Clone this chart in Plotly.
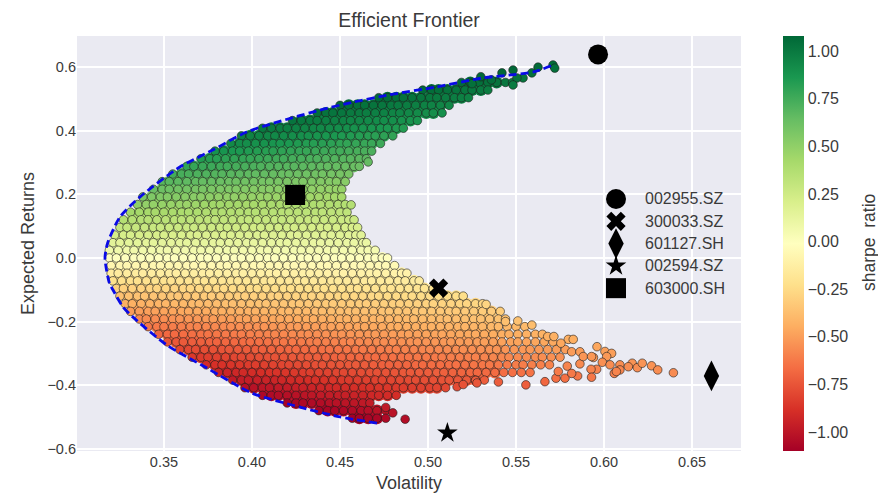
import plotly.graph_objects as go

# Portfolio cloud: one expected-return level per row,
# with the volatilities seen along it (in thousandths).
row_returns = [0.552, 0.528, 0.504, 0.480, 0.456, 0.432, 0.408, 0.384, 0.360, 0.336, 0.312, 0.288, 0.264, 0.240,
               0.216, 0.192, 0.168, 0.144, 0.120, 0.096, 0.072, 0.048, 0.024, 0.000, -0.024, -0.048, -0.072, -0.096,
               -0.120, -0.144, -0.168, -0.192, -0.216, -0.240, -0.264, -0.288, -0.312, -0.336, -0.360, -0.384,
               -0.408, -0.432, -0.456, -0.480, -0.504]
row_vols_milli = [
    [519,524,529,534,539,544,548],
    [497,502,506,511,516,521,525,530,534],
    [472,477,482,486,491,496,501,505,510,515,519,523],
    [450,455,460,464,469,474,479,483,488,493,498,502,507,512],
    [437,442,446,451,456,461,465,470,475,480,484,489,494,499,503,508],
    [423,428,433,437,442,447,452,456,461,466,471,475,480,485,490,494],
    [406,411,416,420,425,430,435,439,444,449,454,458,463,468,473,477,482,486],
    [394,399,404,409,413,418,423,428,432,437,442,447,451,456,461,466,470,475,480],
    [388,393,397,402,407,412,416,421,426,431,435,440,445,450,454,459,464,468,473],
    [379,384,389,393,398,403,408,412,417,422,427,431,436,441,446,450,455,460,464,468],
    [371,376,380,385,390,395,399,404,409,414,418,423,428,433,437,442,447,452,456,461,465],
    [363,367,372,377,382,386,391,396,401,405,410,415,420,424,429,434,439,443,448,453,458,461],
    [355,360,364,369,374,379,383,388,393,398,402,407,412,417,421,426,431,436,440,445,450,455],
    [349,353,358,363,368,372,377,382,387,391,396,401,406,410,415,420,425,429,434,439,444,448,453],
    [344,349,353,358,363,368,372,377,382,387,391,396,401,406,410,415,420,425,429,434,439,444,448,451],
    [338,343,348,352,357,362,367,371,376,381,386,390,395,400,405,409,414,419,424,428,433,438,443,447,451],
    [335,340,344,349,354,359,363,368,373,378,382,387,392,397,401,406,411,416,420,425,430,435,439,444,449,453],
    [331,336,341,345,350,355,360,364,369,374,379,383,388,393,398,402,407,412,417,421,426,431,436,440,445,450,454],
    [327,332,337,341,346,351,356,360,365,370,375,379,384,389,394,398,403,408,413,417,422,427,432,436,441,446,451,455,458],
    [325,329,334,339,344,348,353,358,363,367,372,377,382,386,391,396,401,405,410,415,420,424,429,434,439,443,448,453,457,460],
    [322,327,331,336,341,346,350,355,360,365,369,374,379,384,388,393,398,403,407,412,417,422,426,431,436,441,445,450,455,459,462],
    [321,325,330,335,340,344,349,354,359,363,368,373,378,382,387,392,397,401,406,411,416,420,425,430,435,439,444,449,454,458,463,465],
    [319,324,329,333,338,343,348,352,357,362,367,371,376,381,386,390,395,400,405,409,414,419,424,428,433,438,443,447,452,457,462,466,470],
    [319,323,328,333,337,342,347,352,356,361,366,371,375,380,385,390,394,399,404,409,413,418,423,428,432,437,442,447,451,456,461,466,470,474,477],
    [320,325,329,334,339,344,348,353,358,363,367,372,377,382,386,391,396,401,405,410,415,420,424,429,434,439,443,448,453,458,462,467,472,476,481],
    [320,324,329,334,338,343,348,353,357,362,367,372,376,381,386,391,395,400,405,410,414,419,424,429,433,438,443,448,452,457,462,467,471,476,481,485,488],
    [321,326,331,335,340,345,350,354,359,364,369,373,378,383,388,392,397,402,407,411,416,421,426,430,435,440,445,449,454,459,464,468,473,478,483,487,492,495],
    [323,327,332,337,342,346,351,356,361,365,370,375,380,384,389,394,399,403,408,413,418,422,427,432,437,441,446,451,456,460,465,470,475,479,484,489,494,498,503],
    [325,330,335,339,344,349,354,358,363,368,373,377,382,387,392,396,401,406,411,415,420,425,430,434,439,444,449,453,458,463,468,472,477,482,487,491,496,501,506,511,516,520],
    [328,332,337,342,347,351,356,361,366,370,375,380,385,389,394,399,404,408,413,418,423,427,432,437,442,446,451,456,461,465,470,475,480,484,489,494,499,503,508,513,518,522,527,531],
    [331,336,341,345,350,355,360,364,369,374,379,383,388,393,398,402,407,412,417,421,426,431,436,440,445,450,455,459,464,469,474,478,483,488,493,497,502,507,512,516,521,526,531,536,541],
    [336,340,345,350,355,359,364,369,374,378,383,388,393,397,402,407,412,416,421,426,431,435,440,445,450,454,459,464,469,473,478,483,488,492,497,502,507,511,516,521,526,530,535,540,544],
    [341,346,350,355,360,365,369,374,379,384,388,393,398,403,407,412,417,422,426,431,436,441,445,450,455,460,464,469,474,479,483,488,493,498,502,507,512,517,521,526,531,536,540,545,550,555],
    [347,352,356,361,366,371,375,380,385,390,394,399,404,409,413,418,423,428,432,437,442,447,451,456,461,466,470,475,480,485,489,494,499,504,508,513,518,523,527,532,537,542,546,551,556,561,565],
    [352,357,361,366,371,376,380,385,390,395,399,404,409,414,418,423,428,433,437,442,447,452,456,461,466,471,475,480,485,490,494,499,504,509,513,518,523,528,532,537,542,547,551,556,561,566,571],
    [359,364,368,373,378,383,387,392,397,402,406,411,416,421,425,430,435,440,444,449,454,459,463,468,473,478,482,487,492,497,501,506,511,516,520,525,530,535,539,544,549,554,558,563,568,573,578],
    [366,371,375,380,385,390,394,399,404,409,413,418,423,428,432,437,442,447,451,456,461,466,470,475,480,485,489,494,499,504,508,513,518,523,527,532,537,542,546,551,556,561,565,570,575],
    [374,379,383,388,393,398,402,407,412,417,421,426,431,436,440,445,450,455,459,464,469,474,478,483,488,493,497,502,507,512,516,521,526,531,535,540,545,550,554,559,564,569],
    [381,386,391,395,400,405,410,414,419,424,429,433,438,443,448,452,457,462,467,471,476,481,486,490,495,500,505,509,514,519,524,528,533,538,543,548,553,558],
    [389,394,398,403,408,413,417,422,427,432,436,441,446,451,455,460,465,470,474,479,484,489,493,498,503,508,512,517,522,527,532],
    [396,401,406,410,415,420,425,429,434,439,444,448,453,458,463,467,472,477,482,486,491,496,501,505,510],
    [406,411,415,420,425,430,434,439,444,449,453,458,463,468,472,477,482],
    [420,425,429,434,439,444,448,453,458,463,467],
    [438,443,447,452,457,462,466,471,476],
    [457,461,466,471,476],
]

# Stray portfolios outside the packed body (volatility, expected return)
loose_vols = [0.5710, 0.5720, 0.5625, 0.5590, 0.5540, 0.5505, 0.5483, 0.5483, 0.5420, 0.5360, 0.5300, 0.5250,
              0.4660, 0.4563, 0.4760, 0.4870, 0.4800,
              0.5330, 0.5440, 0.5510, 0.5590, 0.5680, 0.5715, 0.5797, 0.5825, 0.5755, 0.5960, 0.6005, 0.6043,
              0.6015, 0.5940, 0.5990, 0.6034, 0.6090, 0.6160, 0.6138, 0.6189, 0.6217, 0.6270, 0.6305, 0.6394,
              0.6090, 0.6058, 0.6070, 0.5958, 0.5926, 0.5929, 0.5850, 0.5778, 0.5727, 0.5664, 0.5556, 0.5863,
              0.5791, 0.5740, 0.5816, 0.5816, 0.5863, 0.5882, 0.5929, 0.5270, 0.5165, 0.5278, 0.5200, 0.5400]
loose_returns = [0.607, 0.597, 0.600, 0.582, 0.566, 0.566, 0.591, 0.544, 0.582, 0.560, 0.570, 0.548,
                 0.302, 0.167, -0.470, -0.507, -0.487,
                 -0.146, -0.200, -0.198, -0.211, -0.247, -0.247, -0.256, -0.256, -0.268, -0.279, -0.294, -0.300,
                 -0.310, -0.313, -0.328, -0.336, -0.336, -0.331, -0.342, -0.345, -0.331, -0.339, -0.352, -0.361,
                 -0.352, -0.363, -0.357, -0.350, -0.350, -0.375, -0.371, -0.378, -0.378, -0.389, -0.399, -0.333,
                 -0.340, -0.357, -0.363, -0.295, -0.295, -0.310, -0.310, -0.385, -0.405, -0.393, -0.398, -0.390]

# Efficient frontier
frontier_vols = [0.471, 0.450, 0.4273, 0.400, 0.3744, 0.3517, 0.3324, 0.3267, 0.321, 0.319, 0.3165, 0.318, 0.325,
                 0.3364, 0.359, 0.378, 0.397, 0.4386, 0.4574, 0.478, 0.505, 0.531, 0.560, 0.571]
frontier_returns = [-0.519, -0.500, -0.469, -0.425, -0.346, -0.274, -0.186, -0.154, -0.100, -0.079, 0.000, 0.047,
                    0.129, 0.192, 0.286, 0.340, 0.396, 0.465, 0.490, 0.513, 0.538, 0.566, 0.585, 0.607]

# Individual stocks
stock_names = ["002955.SZ", "300033.SZ", "601127.SH", "002594.SZ", "603000.SH"]
stock_vols = [0.5966, 0.506, 0.661, 0.511, 0.4245]
stock_returns = [0.640, -0.095, -0.371, -0.550, 0.198]

x_ticks = [0.35, 0.40, 0.45, 0.50, 0.55, 0.60, 0.65]
y_ticks = [-0.6, -0.4, -0.2, 0.0, 0.2, 0.4, 0.6]
sharpe_ticks = [-1.0, -0.75, -0.5, -0.25, 0.0, 0.25, 0.5, 0.75, 1.0]

INK = "#3a3a3a"
FONT = "Liberation Sans, Arial, sans-serif"
SHARPE_MIN, SHARPE_MAX = -1.10, 1.08
FILL_VOL_LIMIT = 0.54  # the tail beyond this is loose in the picture, so it gets no under-layer
symbols = ["circle", "x", "diamond-tall", "star", "square"]
sizes = [20, 17, 22, 15.5, 20]

body_x, body_y, fill_x, fill_y = [], [], [], []
for ret, row in zip(row_returns, row_vols_milli):
    vols = [v / 1000 for v in row]
    body_x += vols
    body_y += [ret] * len(vols)
    inner = [v for v in vols[1:-1] if v < FILL_VOL_LIMIT]
    fill_x += inner
    fill_y += [ret] * len(inner)

all_x = body_x + loose_vols
all_y = body_y + loose_returns
sharpe = [r / v for r, v in zip(all_y, all_x)]  # colour is return over volatility
fill_sharpe = [r / v for r, v in zip(fill_y, fill_x)]

fig = go.Figure()
# soft under-layer so the packed body has no holes
fig.add_trace(go.Scatter(x=fill_x, y=fill_y, mode="markers", showlegend=False, hoverinfo="skip",
                         marker=dict(size=12, color=fill_sharpe, colorscale="RdYlGn",
                                     cmin=SHARPE_MIN, cmax=SHARPE_MAX, line=dict(width=0))))
fig.add_trace(go.Scatter(x=all_x, y=all_y, mode="markers", showlegend=False,
                         marker=dict(size=8.6, color=sharpe, colorscale="RdYlGn",
                                     cmin=SHARPE_MIN, cmax=SHARPE_MAX,
                                     line=dict(width=0.8, color="rgba(30,30,30,0.75)"),
                                     colorbar=dict(xref="container", x=783 / 878, xanchor="left", xpad=0,
                                                   yref="paper", y=0.5, yanchor="middle", len=1, thickness=21,
                                                   ypad=0, outlinewidth=0, ticks="", tickvals=sharpe_ticks,
                                                   tickformat=".2f", ticklen=0,
                                                   tickfont=dict(size=16, color=INK, family=FONT)))))
fig.add_trace(go.Scatter(x=frontier_vols, y=frontier_returns, mode="lines", showlegend=False,
                         line=dict(color="#0a0ae6", width=2.8, dash="8px,4px", shape="spline", smoothing=0.7)))

# Stock markers and the hand-placed key beside them
key_x = 0.6068
key_text_x = 643
key_top = 199
key_step = 22.3
def px_to_ret(py):
    return (258 - py) / 318
def px_to_vol(px):
    return 0.35 + (px - 164) / 1760

for i, name in enumerate(stock_names):
    fig.add_trace(go.Scatter(x=[stock_vols[i], key_x], y=[stock_returns[i], px_to_ret(key_top + i * key_step)],
                             mode="markers", name=name, showlegend=False,
                             marker=dict(symbol=symbols[i], size=sizes[i], color="black", line=dict(width=0))))
    fig.add_annotation(x=px_to_vol(key_text_x), y=px_to_ret(key_top + i * key_step), text=name, showarrow=False,
                       xanchor="left", yanchor="middle",
                       font=dict(size=16, color=INK, family=FONT))

fig.add_annotation(xref="paper", yref="paper", x=(869 - 77) / 664, y=(451 - 243) / 415, text="sharpe  ratio",
                   textangle=-90, showarrow=False, xanchor="center", yanchor="middle",
                   font=dict(size=17.5, color=INK, family=FONT))

axis_common = dict(showgrid=True, gridcolor="white", gridwidth=1.6, zeroline=False, showline=False, ticks="",
                   tickfont=dict(size=14.5, color=INK, family=FONT))
fig.update_layout(
    width=878, height=501,
    margin=dict(l=77, r=137, t=36, b=50, autoexpand=False),
    paper_bgcolor="white", plot_bgcolor="#EAEAF2",
    title=dict(text="Efficient Frontier", x=409 / 878, xanchor="center", y=1 - 20 / 501, yanchor="middle",
               font=dict(size=19.5, color=INK, family=FONT)),
    xaxis=dict(range=[0.3006, 0.6778], tickvals=x_ticks, tickformat=".2f",
               title=dict(text="Volatility", font=dict(size=18, color=INK, family=FONT), standoff=7),
               **axis_common),
    yaxis=dict(range=[-0.607, 0.698], tickvals=y_ticks, tickformat=".1f",
               title=dict(text="Expected Returns", font=dict(size=18, color=INK, family=FONT), standoff=8),
               **axis_common),
)

fig.write_html("out.html", config={"displayModeBar": False}, post_script="document.body.style.margin='0';")
